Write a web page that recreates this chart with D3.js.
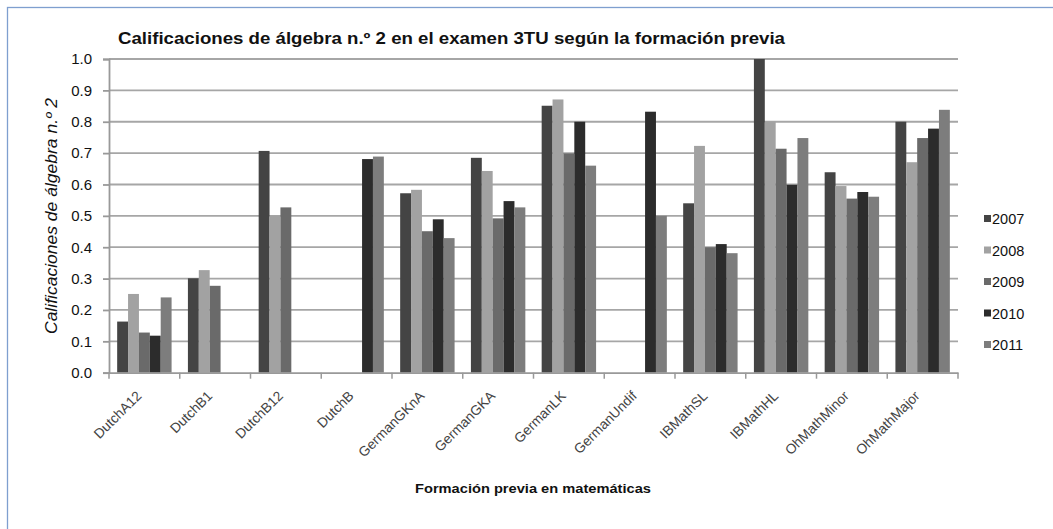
<!DOCTYPE html>
<html><head><meta charset="utf-8">
<script src="https://cdn.jsdelivr.net/npm/d3@7/dist/d3.min.js"></script>
<style>body{margin:0;background:#fff}svg{display:block;font-family:"Liberation Sans",Arial,sans-serif}</style>
</head><body><svg id="c" width="1053" height="529"></svg>
<script>
const categories = ["DutchA12","DutchB1","DutchB12","DutchB","GermanGKnA","GermanGKA","GermanLK","GermanUndif","IBMathSL","IBMathHL","OhMathMinor","OhMathMajor"];
const years = ["2007","2008","2009","2010","2011"];
const v2007 = [0.163,0.301,0.707,null,0.572,0.685,0.851,null,0.540,1.000,0.639,0.800];
const v2008 = [0.251,0.327,0.500,null,0.583,0.643,0.871,null,0.723,0.800,0.595,0.671];
const v2009 = [0.128,0.277,0.527,null,0.451,0.492,0.699,null,0.400,0.714,0.555,0.748];
const v2010 = [0.118,null,null,0.681,0.489,0.547,0.800,0.832,0.410,0.599,0.576,0.778];
const v2011 = [0.240,null,null,0.689,0.429,0.527,0.660,0.500,0.381,0.748,0.561,0.838];
const yTicks = [0,0.1,0.2,0.3,0.4,0.5,0.6,0.7,0.8,0.9,1.0];
const colors = ["#444444","#a2a2a2","#6a6a6a","#2c2c2c","#7d7d7d"];
const series = [v2007,v2008,v2009,v2010,v2011];

const svg = d3.select("#c");
svg.append("rect").attr("x",7.5).attr("y",7.5).attr("width",1100).attr("height",600)
  .attr("fill","#fff").attr("stroke","#7f9fcf").attr("stroke-width",1.3);

const L=109, R=958, T=59, B=372.7;
const x = d3.scaleBand().domain(categories).range([L,R]).paddingInner(0).paddingOuter(0);
const xi = d3.scaleBand().domain(years).range([0,x.bandwidth()]).paddingInner(0).paddingOuter(0.75);
const y = d3.scaleLinear().domain([0,1]).range([B,T]);

// gridlines
svg.append("g").selectAll("line").data(yTicks.slice(1)).join("line")
  .attr("x1",L).attr("x2",R).attr("y1",d=>y(d)).attr("y2",d=>y(d))
  .attr("stroke","#a6a6a6").attr("stroke-width",1.8);

// bars
const g = svg.append("g");
series.forEach((s,si)=>{
  g.selectAll(null).data(categories.map((c,i)=>({c,v:s[i]})).filter(d=>d.v!=null)).join("rect")
    .attr("x",d=>x(d.c)+xi(years[si]))
    .attr("width",xi.bandwidth())
    .attr("y",d=>y(d.v)).attr("height",d=>B-y(d.v))
    .attr("fill",colors[si]);
});

// y axis
const ya = svg.append("g").attr("transform",`translate(${L},0)`)
  .call(d3.axisLeft(y).tickValues(yTicks).tickFormat(d3.format(".1f")).tickSize(6).tickPadding(11));
ya.select(".domain").attr("stroke","#999").attr("stroke-width",1.8);
ya.selectAll(".tick line").attr("stroke","#999").attr("stroke-width",1.8);
ya.selectAll("text").attr("font-size",15).attr("fill","#111").attr("font-family","Liberation Sans, Arial, sans-serif");

// x axis
const xa = svg.append("g").attr("transform",`translate(0,${B})`)
  .call(d3.axisBottom(x).tickSize(0).tickFormat(""));
xa.select(".domain").attr("stroke","#999").attr("stroke-width",1.8);
const edges = categories.map(c=>x(c)).concat([R]);
svg.append("g").selectAll("line").data(edges).join("line")
  .attr("x1",d=>d).attr("x2",d=>d).attr("y1",B).attr("y2",B+6)
  .attr("stroke","#999").attr("stroke-width",1.5);
svg.append("g").selectAll("text").data(categories).join("text")
  .attr("transform",d=>`translate(${x(d)+x.bandwidth()/2-2},${B+24}) rotate(-45)`)
  .attr("text-anchor","end").attr("font-size",13.8).attr("fill","#444")
  .text(d=>d);

// title
svg.append("text").attr("x",118).attr("y",44).attr("font-size",16.5).attr("font-weight","bold")
  .attr("fill","#111").attr("textLength",667).attr("lengthAdjust","spacingAndGlyphs")
  .text("Calificaciones de álgebra n.º 2 en el examen 3TU según la formación previa");
// y title
svg.append("text").attr("transform","translate(57,216) rotate(-90)").attr("text-anchor","middle")
  .attr("font-size",16).attr("font-style","italic").attr("fill","#111")
  .attr("textLength",236).attr("lengthAdjust","spacingAndGlyphs").text("Calificaciones de álgebra n.º 2");
// x title
svg.append("text").attr("x",533).attr("y",493).attr("text-anchor","middle").attr("font-size",13.5)
  .attr("font-weight","bold").attr("fill","#111")
  .attr("textLength",236).attr("lengthAdjust","spacingAndGlyphs").text("Formación previa en matemáticas");

// legend
const lg = svg.append("g").selectAll("g").data(years).join("g")
  .attr("transform",(d,i)=>`translate(984,${219+i*31.5})`);
lg.append("rect").attr("x",0).attr("y",-4).attr("width",7).attr("height",7).attr("fill",(d,i)=>colors[i]);
lg.append("text").attr("x",8).attr("y",5).attr("font-size",14.5).attr("fill","#111").text(d=>d);
</script></body></html>
